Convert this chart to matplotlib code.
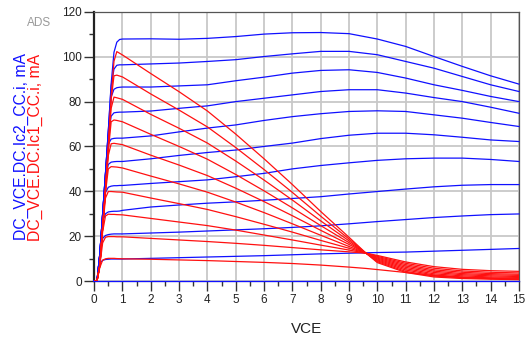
import matplotlib
matplotlib.use("Agg")
import matplotlib.pyplot as plt
from matplotlib.ticker import MultipleLocator

plt.rcParams['font.family'] = ['Liberation Sans', 'DejaVu Sans']

# sweep points (V)
vce_b = [0, 0.1, 0.2, 0.3, 0.4, 0.5, 0.6, 0.7, 0.8, 0.9, 1, 2, 3, 4, 5, 6, 7, 8, 9, 10, 11, 12, 13, 14, 15]
vce_r = [0, 0.1, 0.2, 0.3, 0.4, 0.5, 0.6, 0.7, 0.8, 1, 2, 3, 4, 5, 6, 7, 8, 9, 9.6, 10, 11, 12, 13, 14, 15]

# DC_VCE.DC.Ic2_CC.i (mA), one list per base step
ic2_0 = [0] * 25
ic2_1 = [0, 0, 8, 9.2, 9.6, 9.7, 9.8, 9.8, 9.8, 9.8, 9.8, 10.1, 10.4, 10.7, 11.0, 11.3, 11.7, 12.1, 12.4, 12.7, 12.9, 13.3, 13.7, 14.1, 14.5]
ic2_2 = [0, 0, 11, 19, 20.3, 20.7, 20.9, 21, 21, 21, 21, 21.4, 21.8, 22.3, 22.8, 23.3, 23.9, 24.6, 25.5, 26.5, 27.4, 28.3, 29.0, 29.6, 29.9]
ic2_3 = [0, 0, 12, 26.5, 30, 30.8, 31, 31.1, 31.1, 31.2, 31.5, 33.0, 33.9, 34.7, 35.3, 36.0, 36.8, 37.6, 38.8, 39.9, 41.0, 42.0, 42.7, 43.0, 43.0]
ic2_4 = [0, 0, 12, 29, 39.5, 41.8, 42.3, 42.5, 42.5, 42.6, 42.6, 43.5, 44.3, 45.1, 46.5, 48.0, 50.0, 51.5, 52.7, 53.8, 54.5, 54.8, 54.8, 54.2, 53.3]
ic2_5 = [0, 0, 12, 30, 46, 52, 53, 53.2, 53.3, 53.3, 53.3, 54.5, 56.0, 57.3, 58.4, 60.0, 61.5, 63.5, 65.0, 65.9, 65.9, 65.2, 64.1, 62.9, 62.2]
ic2_6 = [0, 0, 12, 30, 47.5, 61, 63.3, 63.6, 63.7, 63.7, 63.7, 64.7, 66.5, 68.2, 69.6, 71.6, 73.3, 74.6, 75.6, 75.9, 75.6, 74.1, 72.6, 70.7, 68.9]
ic2_7 = [0, 0, 12, 30, 48, 65, 73.5, 75, 75.2, 75.3, 75.3, 75.8, 77.0, 78.1, 80.0, 81.5, 83.0, 84.5, 85.3, 85.3, 83.8, 81.8, 80.0, 77.5, 74.8]
ic2_8 = [0, 0, 12, 30, 48, 66.5, 82, 85.5, 86.2, 86.4, 86.5, 86.5, 87.0, 87.5, 89.3, 90.9, 92.7, 93.9, 94.2, 93.0, 90.5, 87.5, 85.0, 82.3, 80.0]
ic2_9 = [0, 0, 12, 30, 48, 67, 87, 94.5, 96.2, 96.4, 96.4, 96.8, 97.2, 97.9, 98.7, 100.1, 101.3, 102.4, 102.4, 100.9, 97.9, 94.9, 91.2, 87.5, 84.5]
ic2_10 = [0, 0, 12, 30, 48, 67, 88, 102, 106.5, 107.7, 107.9, 108, 107.8, 108.2, 109.0, 110.1, 110.7, 110.8, 110.3, 107.9, 104.6, 100.1, 95.7, 91.5, 87.8]

# DC_VCE.DC.Ic1_CC.i (mA)
ic1_1 = [0, 0, 6, 9.3, 9.9, 10.1, 10.1, 10.1, 10.0, 9.9, 9.7, 9.4, 9.1, 8.7, 8.3, 7.8, 7.1, 6.2, 5.6, 5.1, 3.8, 2.4, 1.6, 1.1, 0.8]
ic1_2 = [0, 0, 7, 17, 19.5, 19.8, 19.8, 19.8, 19.7, 19.7, 19.0, 18.3, 17.6, 16.8, 15.9, 14.9, 13.9, 13.0, 12.4, 11.4, 8.5, 6.4, 5.2, 4.6, 4.3]
ic1_3 = [0, 0, 7, 22, 29, 29.8, 29.7, 29.7, 29.6, 29.5, 27.9, 26.3, 24.7, 22.7, 20.5, 18.3, 16.0, 13.8, 12.4, 11.0, 7.9, 5.7, 4.5, 3.9, 3.6]
ic1_4 = [0, 0, 7, 23.5, 37, 39.9, 39.9, 39.8, 39.7, 39.6, 37.0, 34.5, 31.9, 28.7, 25.3, 21.8, 18.1, 14.6, 12.4, 10.6, 7.3, 5.0, 3.9, 3.3, 3.0]
ic1_5 = [0, 0, 7, 24, 39.5, 50, 51, 50.9, 50.8, 50.4, 46.8, 43.3, 39.6, 35.2, 30.5, 25.5, 20.4, 15.4, 12.4, 10.2, 6.7, 4.4, 3.3, 2.8, 2.5]
ic1_6 = [0, 0, 7, 24, 40.5, 56, 61.2, 61.4, 61.2, 60.8, 56.1, 51.7, 47.0, 41.4, 35.4, 29.1, 22.6, 16.3, 12.4, 9.8, 6.1, 3.8, 2.8, 2.3, 2.0]
ic1_7 = [0, 0, 7, 24, 41, 58, 71, 71.8, 71.6, 71.0, 65.4, 60.0, 54.3, 47.5, 40.2, 32.6, 24.7, 17.1, 12.4, 9.4, 5.5, 3.2, 2.3, 1.8, 1.6]
ic1_8 = [0, 0, 7, 24, 41, 59, 77, 82, 81.7, 81.0, 74.3, 68.1, 61.5, 53.5, 45.0, 36.1, 26.8, 17.9, 12.4, 9.0, 4.9, 2.7, 1.8, 1.4, 1.2]
ic1_9 = [0, 0, 7, 24, 41, 60, 81, 91.5, 91.8, 91.0, 83.4, 76.2, 68.7, 59.5, 49.7, 39.5, 28.9, 18.7, 12.4, 8.6, 4.3, 2.2, 1.4, 1.1, 0.9]
ic1_10 = [0, 0, 7, 24, 41, 60, 82, 98, 102.3, 100.8, 92.5, 84.4, 75.8, 65.5, 54.5, 43.0, 31.0, 19.5, 12.4, 8.2, 3.8, 1.8, 1.1, 0.8, 0.6]

ic2_curves = [ic2_0, ic2_1, ic2_2, ic2_3, ic2_4, ic2_5, ic2_6, ic2_7, ic2_8, ic2_9, ic2_10]
ic1_curves = [ic1_1, ic1_2, ic1_3, ic1_4, ic1_5, ic1_6, ic1_7, ic1_8, ic1_9, ic1_10]

fig = plt.figure(figsize=(5.29, 3.45), dpi=100)
ax = fig.add_axes([0.178, 0.1855, 0.803, 0.78])

for c in ic2_curves:
    ax.plot(vce_b, c, color="#1010ff", lw=0.9, clip_on=False, zorder=3)
for c in ic1_curves:
    ax.plot(vce_r, c, color="#ff1010", lw=0.9, zorder=3)

ax.set_xlim(0, 15)
ax.set_ylim(0, 120)
ax.xaxis.set_major_locator(MultipleLocator(1))
ax.xaxis.set_minor_locator(MultipleLocator(0.5))
ax.yaxis.set_major_locator(MultipleLocator(20))
ax.yaxis.set_minor_locator(MultipleLocator(10))
ax.grid(True, which="major", color="#c8c8c8", lw=1.3)
ax.set_axisbelow(True)

ax.tick_params(which="major", length=7, width=1, color="#333333", labelsize=8.5,
               labelcolor="#222222", pad=2)
ax.tick_params(which="minor", length=3.5, width=1, color="#333333")

ax.spines["left"].set_linewidth(1.6)
ax.spines["left"].set_color("#222222")
ax.spines["bottom"].set_color("#555555")
for s in ("top", "right"):
    ax.spines[s].set_color("#555555")
    ax.spines[s].set_linewidth(0.9)

ax.set_xlabel("VCE", fontsize=11, color="#222222", labelpad=12)

fig.text(21 / 529, 0.574, "DC_VCE.DC.Ic2_CC.i, mA", color="#1010ff", fontsize=11.3,
         rotation=90, ha="center", va="center")
fig.text(35.5 / 529, 0.574, "DC_VCE.DC.Ic1_CC.i, mA", color="#ff1010", fontsize=11.3,
         rotation=90, ha="center", va="center")
fig.text(39.5 / 529, 1 - 22.5 / 345, "ADS", color="#999999", fontsize=8.5,
         ha="center", va="center")

fig.savefig("out.png", dpi=100)
